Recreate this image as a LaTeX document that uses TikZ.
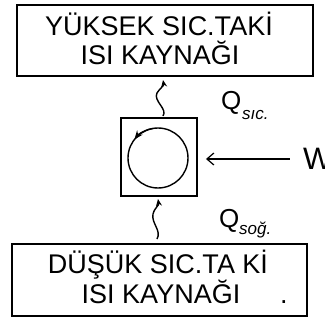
\documentclass[tikz,border=0pt]{standalone}
\usepackage{fontspec}
\setmainfont{Liberation Sans}
\usetikzlibrary{arrows.meta}
\begin{document}
\begin{tikzpicture}[x=1pt,y=1pt,
  box/.style={draw,line width=1.6pt,inner sep=0pt},
  big/.style={font=\fontsize{27}{27}\selectfont,inner sep=0pt,anchor=base},
  wig/.style={line width=1.4pt,-{Stealth[length=7pt,width=6pt]}},
  lab/.style={font=\fontsize{26}{26}\selectfont,inner sep=0pt,anchor=base west},
  sub/.style={font=\fontsize{17}{17}\selectfont\itshape,inner sep=0pt,anchor=base west}]
\useasboundingbox (0,0) rectangle (325,325);
% boxes
\node[box,minimum width=296pt,minimum height=71pt] (hot) at (165,284.5) {};
\node[box,minimum width=295pt,minimum height=72pt] (cold) at (159.5,45) {};
\node[box,minimum width=76pt,minimum height=78pt] (eng) at (159,168) {};
% texts
\node[big] (h1) at (159,290) {YÜKSEK SIC.TAKİ};
\node[big] (h2) at (160,261) {ISI KAYNAĞI};
\node[big] (c1) at (158,52) {DÜŞÜK SIC.TA Kİ};
\node[big] (c2) at (161,22) {ISI KAYNAĞI};
\node[big] (dot) at (284,22) {.};
% cycle circle
\coordinate (cc) at (158,167);
\draw[line width=1.4pt] (cc) circle (30);
\draw[line width=1.4pt,-{Stealth[length=9pt,width=7pt]}] ([shift={(cc)}]100:30) arc (100:142:30);
% work
\node[font=\fontsize{31}{31}\selectfont,inner sep=0pt,anchor=west] (W) at (303,166) {W};
\coordinate (wstart) at (290,166);
\coordinate (wend) at (206,166);
\draw[line width=1.2pt,-{Straight Barb[length=7pt,width=12pt]}] (wstart) -- (wend);
% heat squiggles
\coordinate (a1) at (163,209);
\coordinate (a2) at (163,245);
\draw[wig] (a1) .. controls (168,216) and (153,224) .. (157,232) .. controls (160,237) and (164,239) .. (163,245);
\coordinate (b1) at (157,86);
\coordinate (b2) at (158,126);
\draw[wig] (b1) .. controls (162,94) and (151,102) .. (153,111) .. controls (155,118) and (159,119) .. (158,126);
% labels
\node[lab] (qh) at (221,215) {Q};
\node[sub] (qhs) at (242,206) {sıc.};
\node[lab] (qc) at (219,97) {Q};
\node[sub] (qcs) at (239,90) {soğ.};
\end{tikzpicture}
\end{document}
